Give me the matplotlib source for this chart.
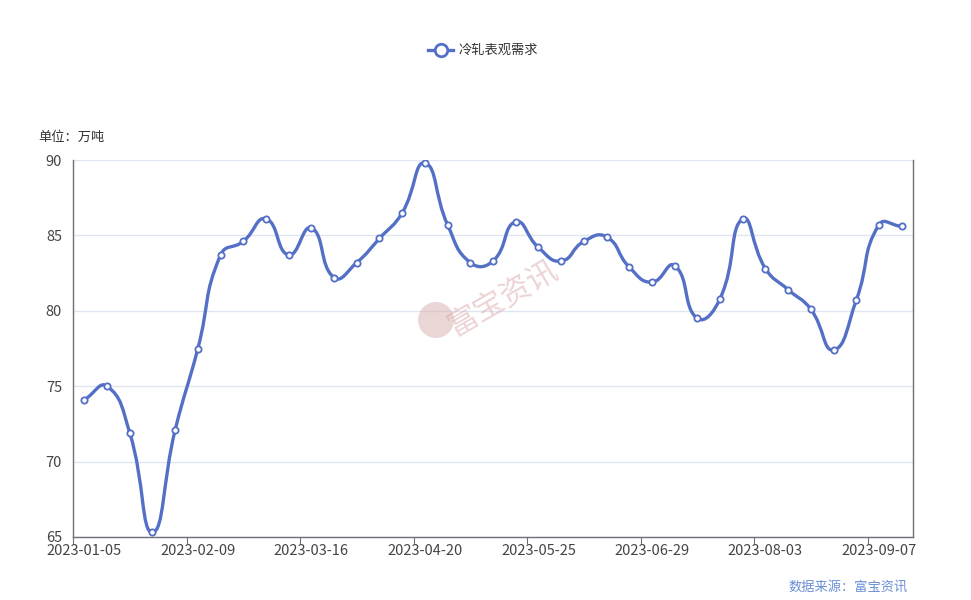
import numpy as np
import matplotlib
matplotlib.use("Agg")
import matplotlib.pyplot as plt
from matplotlib.path import Path
from matplotlib.patches import PathPatch, Ellipse
import pandas as pd

plt.rcParams['font.family'] = ['Noto Sans CJK SC', 'DejaVu Sans']

# 数据 (周度, 万吨)
dates = pd.date_range("2023-01-05", periods=37, freq="7D").strftime("%Y-%m-%d").tolist()
values = [74.1, 75.0, 71.9, 65.3, 72.1, 77.5, 83.7, 84.6, 86.1, 83.7,
          85.5, 82.2, 83.2, 84.8, 86.5, 89.8, 85.7, 83.2, 83.3, 85.9,
          84.2, 83.3, 84.6, 84.9, 82.9, 81.9, 83.0, 79.5, 80.8, 86.1,
          82.8, 81.4, 80.1, 77.4, 80.7, 85.7, 85.6]
series_name = "冷轧表观需求"
unit_label = "单位：万吨"
source_label = "数据来源：富宝资讯"

BLUE = "#5470C6"
W, H = 971, 600
fig = plt.figure(figsize=(W / 100, H / 100), dpi=100)
ax = fig.add_axes([73 / W, 1 - 537 / H, (913 - 73) / W, (537 - 160) / H])

n = len(values)
xs = np.arange(n, dtype=float)
ys = np.array(values, dtype=float)

# 平滑曲线 (类似 echarts smooth)
sx, sy = 22.7, 15.08  # 像素比例用于计算段长
smooth = 0.5
verts = [(xs[0], ys[0])]
codes = [Path.MOVETO]
cps_out = []
cps_in = []
for i in range(n):
    px, py = (xs[i - 1], ys[i - 1]) if i > 0 else (xs[i], ys[i])
    nx, ny = (xs[i + 1], ys[i + 1]) if i < n - 1 else (xs[i], ys[i])
    vx, vy = nx - px, ny - py
    l0 = np.hypot((xs[i] - px) * sx, (ys[i] - py) * sy)
    l1 = np.hypot((nx - xs[i]) * sx, (ny - ys[i]) * sy)
    r = l1 / (l0 + l1) if (l0 + l1) > 0 else 0.5
    cps_out.append((xs[i] + vx * smooth * r, ys[i] + vy * smooth * r))
    cps_in.append((xs[i] - vx * smooth * (1 - r), ys[i] - vy * smooth * (1 - r)))
for i in range(1, n):
    verts += [cps_out[i - 1], cps_in[i], (xs[i], ys[i])]
    codes += [Path.CURVE4] * 3
ax.add_patch(PathPatch(Path(verts, codes), fill=False, edgecolor=BLUE, lw=2.4, zorder=3,
                       capstyle="round", joinstyle="round"))
ax.plot(xs, ys, linestyle="none", marker="o", ms=4.5, mfc="white", mec=BLUE, mew=1.3, zorder=4)

ax.set_xlim(-0.5, n - 0.5)
ax.set_ylim(65, 90)
ax.set_yticks([65, 70, 75, 80, 85, 90])
ax.grid(axis="y", color="#E0E6F1", lw=1)
ax.set_axisbelow(True)

ax.set_xticks(np.arange(0, n, 5) - 0.5, minor=False)
ax.set_xticklabels([])
ax.set_xticks(np.arange(0, n, 5), minor=True)
ax.set_xticklabels([dates[i] for i in range(0, n, 5)], minor=True)
ax.tick_params(axis="x", which="major", length=5, color="#6E7079")
ax.tick_params(axis="x", which="minor", length=0, labelsize=10.5, labelcolor="#444444", pad=5)
ax.tick_params(axis="y", length=0, labelsize=10.5, labelcolor="#444444", pad=8)

for s in ["left", "bottom", "right"]:
    ax.spines[s].set_color("#6E7079")
    ax.spines[s].set_linewidth(1)
ax.spines["top"].set_visible(False)

# 图例
fig.add_artist(plt.Line2D([428 / W, 453 / W], [1 - 50 / H] * 2, color=BLUE, lw=2.4,
                          transform=fig.transFigure))
fig.add_artist(plt.Line2D([440.5 / W], [1 - 50 / H], marker="o", ms=9, mfc="white", mec=BLUE,
                          mew=2, transform=fig.transFigure))
fig.text(459 / W, 1 - 50 / H, series_name, fontsize=9.5, color="#333333", va="center")

fig.text(38 / W, 1 - 137 / H, unit_label, fontsize=9.5, color="#333333", va="center")
fig.text(908 / W, 1 - 587 / H, source_label, fontsize=9.5, color="#6B8ED6", va="center", ha="right")

# 水印
fig.text(503 / W, 1 - 298 / H, "富宝资讯", fontsize=22, color="#D9A9A9", alpha=0.5,
         rotation=30, ha="center", va="center")
fig.add_artist(Ellipse((436 / W, 1 - 320 / H), 36 / W, 36 / H, transform=fig.transFigure,
                       color="#D4A5A5", alpha=0.45, lw=0))

fig.savefig("out.png", dpi=100)
